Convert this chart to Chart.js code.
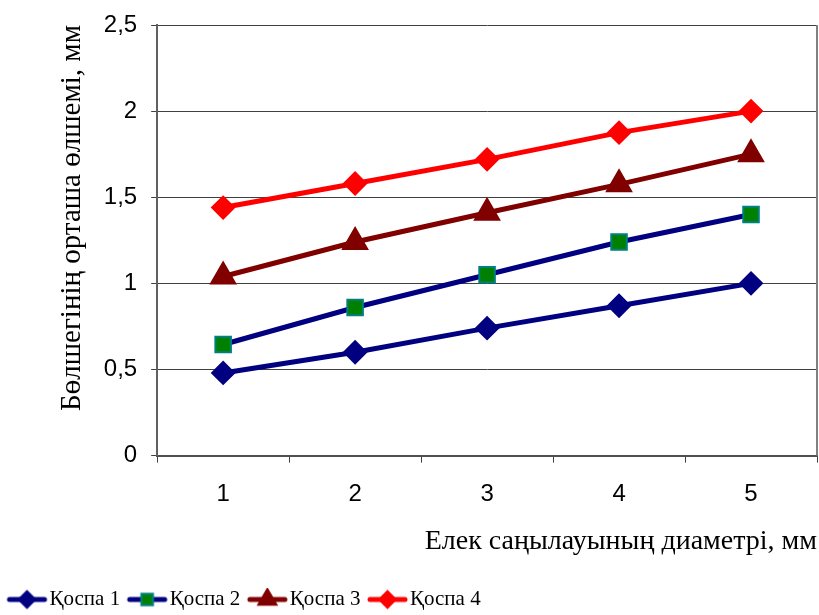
<!DOCTYPE html>
<html>
<head>
<meta charset="utf-8">
<script src="https://cdn.jsdelivr.net/npm/chart.js@4"></script>
<style>
  html, body { margin: 0; padding: 0; background: #fff; overflow: hidden; }
  canvas { display: block; }
</style>
</head>
<body>
<canvas id="chart" width="819" height="615"></canvas>
<script>
// ==== Data ====
const categories = ["1", "2", "3", "4", "5"];
const seriesNames = ["Қоспа 1", "Қоспа 2", "Қоспа 3", "Қоспа 4"];
const mix1 = [0.48, 0.60, 0.74, 0.87, 1.00];
const mix2 = [0.645, 0.86, 1.05, 1.24, 1.40];
const mix3 = [1.04, 1.24, 1.41, 1.575, 1.75];
const mix4 = [1.44, 1.58, 1.72, 1.875, 2.00];
const yTicks = [0, 0.5, 1, 1.5, 2, 2.5];

const xTitle = "Елек саңылауының диаметрі, мм";
const yTitle = "Бөлшегінің орташа өлшемі, мм";

// ==== Styles ====
const styles = [
  { line: "#000080", fill: "#000080", border: "#000080", shape: "rectRot", r: 11 },
  { line: "#000080", fill: "#008000", border: "#008080", shape: "rect", r: 11 },
  { line: "#800000", fill: "#800000", border: "#800000", shape: "triangle", r: 14 },
  { line: "#ff0000", fill: "#ff0000", border: "#ff0000", shape: "rectRot", r: 11 }
];

// legend swatch: line with marker in the middle (left part transparent)
function swatch(st) {
  const c = document.createElement("canvas");
  c.width = 54;
  c.height = 24;
  const ctx = c.getContext("2d");
  ctx.strokeStyle = st.line;
  ctx.lineWidth = 5;
  ctx.lineCap = "round";
  ctx.beginPath();
  ctx.moveTo(12, 12);
  ctx.lineTo(47, 12);
  ctx.stroke();
  ctx.fillStyle = st.fill;
  ctx.strokeStyle = st.border;
  ctx.lineWidth = 2;
  Chart.helpers.drawPoint(ctx, { pointStyle: st.shape, radius: st.r * 0.75, rotation: 0, borderWidth: 2 }, 29.5, 12);
  return c;
}

// right border of the plot
const frame = {
  id: "frame",
  afterDraw(chart) {
    const { ctx, chartArea: a } = chart;
    ctx.save();
    ctx.strokeStyle = "#808080";
    ctx.lineWidth = 2;
    ctx.beginPath();
    ctx.moveTo(a.right, a.top);
    ctx.lineTo(a.right, a.bottom);
    ctx.stroke();
    ctx.restore();
  }
};

const allData = [mix1, mix2, mix3, mix4];
const datasets = allData.map((d, i) => ({
  label: seriesNames[i],
  data: d,
  borderColor: styles[i].line,
  backgroundColor: styles[i].fill,
  pointBackgroundColor: styles[i].fill,
  pointBorderColor: styles[i].border,
  pointBorderWidth: 2,
  pointStyle: styles[i].shape,
  pointRadius: styles[i].r,
  borderWidth: 5,
  tension: 0
}));

new Chart(document.getElementById("chart"), {
  type: "line",
  data: { labels: categories, datasets },
  plugins: [frame],
  options: {
    responsive: false,
    animation: false,
    layout: { autoPadding: false, padding: { top: 25, right: 2, left: 0, bottom: -5 } },
    plugins: {
      tooltip: { enabled: false },
      legend: {
        position: "bottom",
        align: "start",
        labels: {
          usePointStyle: true,
          pointStyleWidth: 29,
          padding: 10,
          color: "#000",
          font: { family: "Liberation Serif", size: 21 },
          generateLabels: (chart) =>
            chart.data.datasets.map((ds, i) => ({
              text: ds.label,
              pointStyle: swatch(styles[i]),
              fillStyle: ds.backgroundColor,
              strokeStyle: ds.borderColor,
              lineWidth: 0,
              datasetIndex: i,
              hidden: false,
              fontColor: "#000"
            }))
        }
      }
    },
    scales: {
      x: {
        offset: true,
        afterFit: (s) => { s.paddingLeft = 0; s.paddingRight = 0; },
        grid: {
          offset: true,
          drawOnChartArea: false,
          drawTicks: true,
          tickLength: 7,
          color: "#404040",
          lineWidth: 1
        },
        border: { color: "#505050", width: 2 },
        ticks: { color: "#000", font: { family: "Liberation Sans", size: 24 }, padding: 17 },
        title: {
          display: true,
          text: xTitle,
          align: "end",
          color: "#000",
          font: { family: "Liberation Serif", size: 28 },
          padding: { top: -1, bottom: 21 }
        }
      },
      y: {
        min: 0,
        max: 2.5,
        afterBuildTicks: (axis) => { axis.ticks = yTicks.map((v) => ({ value: v })); },
        afterFit: (s) => { s.paddingTop = 0; s.paddingBottom = 0; },
        grid: { color: "#404040", lineWidth: 1, tickLength: 6 },
        border: { color: "#606060", width: 2 },
        ticks: {
          color: "#000",
          font: { family: "Liberation Sans", size: 24 },
          padding: 14,
          callback: (v) => String(v).replace(".", ",")
        },
        title: {
          display: true,
          text: yTitle,
          align: "end",
          color: "#000",
          font: { family: "Liberation Serif", size: 29 },
          padding: { top: 55, bottom: 0 }
        }
      }
    }
  }
});
</script>
</body>
</html>
